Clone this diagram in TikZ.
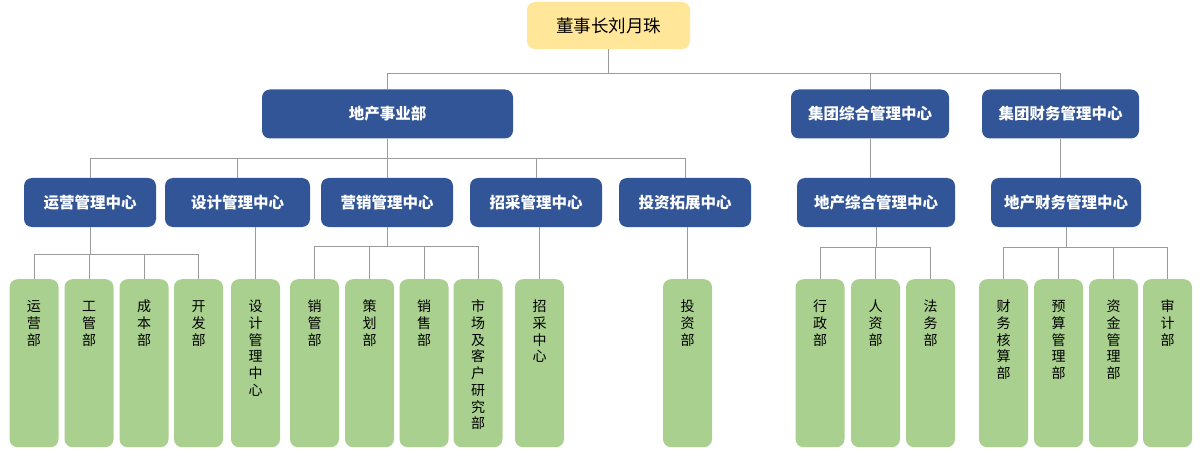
\documentclass[tikz,border=0pt]{standalone}
\usepackage{fontspec}
\newfontfamily\cjk{Noto Sans CJK SC}
\usetikzlibrary{positioning}
\definecolor{bossyellow}{RGB}{255,230,153}
\definecolor{deptblue}{RGB}{50,85,151}
\definecolor{unitgreen}{RGB}{169,208,142}
\definecolor{linegray}{RGB}{155,155,155}
\tikzset{
    boss/.style={rectangle, rounded corners=8pt, minimum width=163pt, minimum height=47pt, align=center, fill=bossyellow, font=\cjk\fontsize{17.5}{20}\selectfont},
    hub/.style={rectangle, rounded corners=8pt, minimum height=49pt, align=center, fill=deptblue, text=white, font=\cjk\bfseries\fontsize{15.5}{18}\selectfont},
    unit/.style={rectangle, rounded corners=8pt, anchor=north, minimum width=49pt, text width=40pt, inner sep=0pt, text height=32.6pt, text depth=135.4pt, align=center, fill=unitgreen, font=\cjk\fontsize{14}{16.7}\selectfont},
    link/.style={draw=linegray, line width=0.9pt}
}
\begin{document}
\begin{tikzpicture}[x=1pt, y=-1pt]
    \useasboundingbox (0,0) rectangle (1200,468);

    \node (boss) [boss] at (608.5, 25.5) {董事长刘月珠};

    \node (dichan) [hub, minimum width=251pt] at (387.5, 114) {地产事业部};
    \node (jtzh) [hub, minimum width=158pt] at (870, 114) {集团综合管理中心};
    \node (jtcw) [hub, minimum width=157pt] at (1060.5, 114) {集团财务管理中心};

    \node (yunying) [hub, minimum width=132pt] at (90, 202.5) {运营管理中心};
    \node (sheji) [hub, minimum width=145pt] at (237.5, 202.5) {设计管理中心};
    \node (yingxiao) [hub, minimum width=132pt] at (387, 202.5) {营销管理中心};
    \node (zhaocai) [hub, minimum width=132pt] at (536, 202.5) {招采管理中心};
    \node (touzi) [hub, minimum width=132pt] at (685, 202.5) {投资拓展中心};
    \node (dczh) [hub, minimum width=158pt] at (876, 202.5) {地产综合管理中心};
    \node (dccw) [hub, minimum width=150pt] at (1066, 202.5) {地产财务管理中心};

    \node (yunyingbu) [unit] at (34, 279) {运\\营\\部};
    \node (gongguanbu) [unit] at (89, 279) {工\\管\\部};
    \node (chengbenbu) [unit] at (144, 279) {成\\本\\部};
    \node (kaifabu) [unit] at (198.5, 279) {开\\发\\部};
    \node (sjzx) [unit] at (255.5, 279) {设\\计\\管\\理\\中\\心};
    \node (xiaoguanbu) [unit] at (314.5, 279) {销\\管\\部};
    \node (cehuabu) [unit] at (369.5, 279) {策\\划\\部};
    \node (xiaoshoubu) [unit] at (424, 279) {销\\售\\部};
    \node (shichangbu) [unit] at (478, 279) {市\\场\\及\\客\\户\\研\\究\\部};
    \node (zczx) [unit] at (539.5, 279) {招\\采\\中\\心};
    \node (touzibu) [unit] at (687.5, 279) {投\\资\\部};
    \node (xingzhengbu) [unit] at (820, 279) {行\\政\\部};
    \node (renzibu) [unit] at (875.5, 279) {人\\资\\部};
    \node (fawubu) [unit] at (930.5, 279) {法\\务\\部};
    \node (hesuanbu) [unit] at (1003.5, 279) {财\\务\\核\\算\\部};
    \node (yusuanbu) [unit] at (1058.5, 279) {预\\算\\管\\理\\部};
    \node (zijinbu) [unit] at (1113.5, 279) {资\\金\\管\\理\\部};
    \node (shenjibu) [unit] at (1167.5, 279) {审\\计\\部};

    % top levels
    \foreach \c in {dichan, jtzh, jtcw}
        \draw [link] (boss.south) -- ++(0,24) -| (\c.north);
    \foreach \c in {yunying, sheji, yingxiao, zhaocai, touzi}
        \draw [link] (dichan.south) -- ++(0,20) -| (\c.north);
    \draw [link] (jtzh.south) -- (jtzh.south |- dczh.north);
    \draw [link] (jtcw.south) -- (jtcw.south |- dccw.north);

    % departments
    \foreach \c in {yunyingbu, gongguanbu, chengbenbu, kaifabu}
        \draw [link] (yunying.south) -- ++(0,27) -| (\c.north);
    \foreach \c in {xiaoguanbu, cehuabu, xiaoshoubu, shichangbu}
        \draw [link] (yingxiao.south) -- ++(0,19) -| (\c.north);
    \foreach \c in {xingzhengbu, renzibu, fawubu}
        \draw [link] (dczh.south) -- ++(0,20) -| (\c.north);
    \foreach \c in {hesuanbu, yusuanbu, zijinbu, shenjibu}
        \draw [link] (dccw.south) -- ++(0,20) -| (\c.north);
    \draw [link] (sjzx.north) -- (sjzx.north |- sheji.south);
    \draw [link] (zczx.north) -- (zczx.north |- zhaocai.south);
    \draw [link] (touzibu.north) -- (touzibu.north |- touzi.south);
\end{tikzpicture}
\end{document}
